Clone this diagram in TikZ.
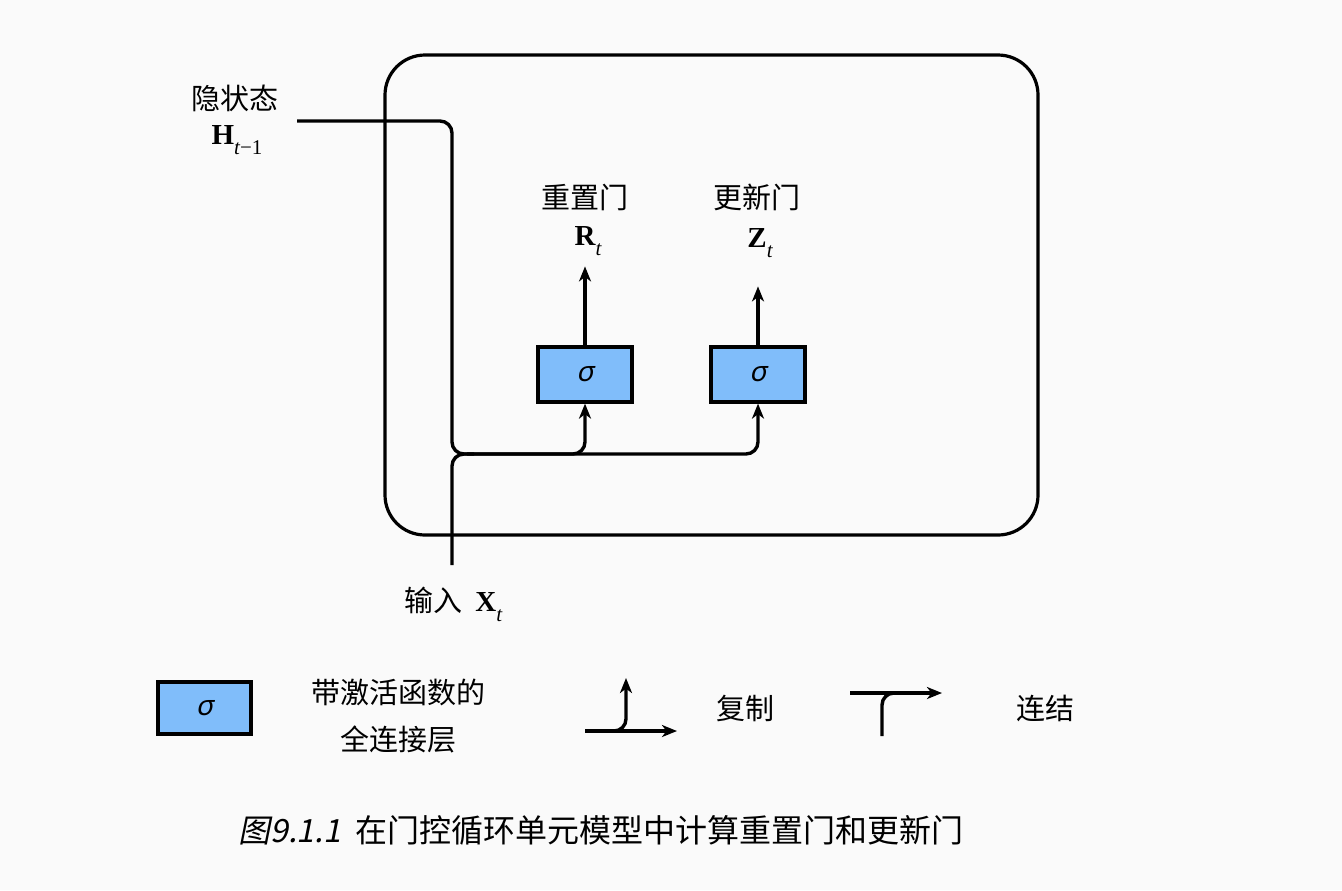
\documentclass[tikz,border=0pt]{standalone}
\usepackage{fontspec}
\usepackage{amsmath}
\usetikzlibrary{arrows.meta,positioning,calc}
\newfontfamily\cjk{Noto Sans CJK SC}
\newfontfamily\cjkit[FakeSlant=0.2]{Noto Sans CJK SC}
\newfontfamily\sigfont[FakeSlant=0.2]{Noto Sans}
\newfontfamily\tnr{Liberation Serif}
\definecolor{gateblue}{RGB}{128,189,250}
\definecolor{paper}{RGB}{250,250,250}
\newcommand{\labfont}{\cjk\fontsize{14.5}{23.5}\selectfont}
\newcommand{\sig}{{\sigfont\fontsize{14}{16}\selectfont σ}}
\newcommand{\vsym}[2]{{\tnr\fontsize{14.5}{16}\selectfont\bfseries #1}\raisebox{-5pt}{\tnr\fontsize{10.5}{12}\selectfont #2}}

\begin{document}
\begin{tikzpicture}[x=0.5pt, y=-0.5pt, >={Stealth[length=7.5pt,width=6pt,inset=2.2pt]},
  flow/.style={line width=1.7pt, rounded corners=6pt},
  gatebox/.style={rectangle, draw, line width=1.6pt, fill=gateblue, minimum width=47pt, minimum height=27.5pt, inner sep=0pt},
  lab/.style={font=\labfont, align=center, inner sep=0pt},
  sym/.style={inner sep=0pt}]
\fill[paper] (0,0) rectangle (1342,890);
\useasboundingbox (0,0) rectangle (1342,890);
% frame of the unit
\draw[line width=1.6pt, rounded corners=20pt] (385,55) rectangle (1038,535);
% gates
\node[gatebox] (rbox) at (585,374.5) {\sig};
\node[gatebox] (zbox) at (758,374.5) {\sig};
% outputs
\node[lab] (rname) at (585,197) {重置门};
\node[sym] (rsym) at (588,241) {\vsym{R}{\itshape t}};
\node[lab] (zname) at (757,197) {更新门};
\node[sym] (zsym) at (760,243) {\vsym{Z}{\itshape t}};
% inputs
\node[lab] (hname) at (235,98) {隐状态};
\node[sym] (hsym) at (237,140) {\vsym{H}{\itshape t\upshape −1}};
\node[lab, anchor=west] (xname) at (404,604) {输入\ \ \vsym{X}{\itshape t}};
\coordinate (hin) at (297,121);
\coordinate (xin) at (452,565);
\coordinate (trunk) at (452,454);
% connectors
\draw[flow] (hin) -| (trunk) -- ++(22,0);
\draw[flow,->] (xin) |- (rbox.south |- trunk) -- (rbox.south);
\draw[flow,->] ($(trunk)+(15,0)$) -| (zbox.south);
\draw[flow,->] (rbox.north) -- ++(0,-79);
\draw[flow,->] (zbox.north) -- ++(0,-59);
% legend
\node[gatebox, minimum width=46.5pt, minimum height=26pt] (lbox) at (204.5,708) {\sig};
\node[lab] (ltext) at (398,716) {带激活函数的\\全连接层};
\coordinate (cpa) at (585,731);
\coordinate (cpb) at (677,731);
\coordinate (cpup) at (626,678);
\draw[flow,->] (cpa) -- (cpb);
\draw[flow,->] ($(cpa)+(26,0)$) -| (cpup);
\node[lab] (cptext) at (745,708) {复制};
\coordinate (cta) at (850,693);
\coordinate (ctb) at (942,693);
\coordinate (ctv) at (882,736);
\draw[flow,->] (cta) -- (ctb);
\draw[flow] (ctv) |- ($(ctv |- cta)+(20,0)$);
\node[lab] (cttext) at (1045,708) {连结};
% caption
\node[font=\cjk\fontsize{16}{18}\selectfont, inner sep=0pt] (cap) at (601,830) {{\cjkit 图9.1.1}\ \ 在门控循环单元模型中计算重置门和更新门};
\end{tikzpicture}
\end{document}
